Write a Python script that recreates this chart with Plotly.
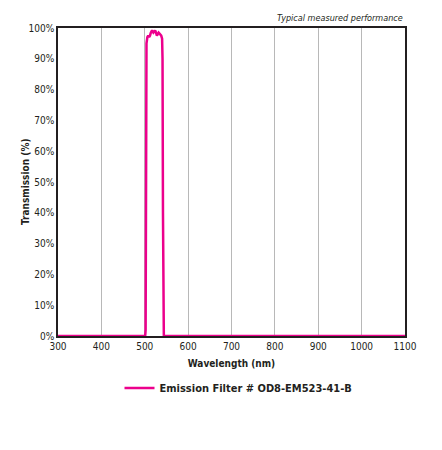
import plotly.graph_objects as go

# ----------------------------------------
# DATA
# ----------------------------------------
wavelength = [300, 500, 501, 502, 503, 504, 506, 508, 510, 512, 514, 516, 518,
              520, 522, 524, 526, 528, 530, 532, 534, 536, 538, 540, 541, 542,
              543, 544, 545, 1100]
transmission = [0, 0, 0, 2, 60, 95, 97, 97.5, 97, 97.5, 98.5, 99, 99,
                98.5, 98.8, 99.2, 98.5, 97.5, 98, 98.5, 98.2, 97.8, 97.5, 96.5, 90, 40,
                3, 0, 0, 0]
x_ticks = list(range(300, 1101, 100))
y_ticks = list(range(0, 101, 10))
y_labels = [f"{v}%" for v in y_ticks]

FONT = "DejaVu Sans Condensed, Liberation Sans Narrow, sans-serif"
TEXT = "#231f20"
PINK = "#ec008c"

# page body has an 8px margin, so pull the plot area up/left by that much
L, T, PW, PH = 50, 20, 347, 308

fig = go.Figure()
fig.add_trace(go.Scatter(
    x=wavelength, y=transmission, mode="lines",
    name="<b>Emission Filter # OD8-EM523-41-B</b>",
    line=dict(color=PINK, width=2.5),
))

fig.update_xaxes(
    range=[300, 1100], tickvals=x_ticks, showgrid=True, gridcolor="#b8b8b8",
    gridwidth=1, showline=True, linecolor="#231f20", linewidth=1.5, mirror=True,
    ticks="", zeroline=False,
    title=dict(text="<b>Wavelength (nm)</b>", font=dict(size=10, color=TEXT), standoff=9),
    tickfont=dict(size=10, color=TEXT),
)
fig.update_yaxes(
    range=[0, 100], tickvals=y_ticks, ticktext=y_labels, showgrid=False,
    showline=True, linecolor="#231f20", linewidth=1.5, mirror=True,
    ticks="", zeroline=False,
    tickfont=dict(size=10, color=TEXT),
)

fig.add_annotation(
    text="<b>Transmission (%)</b>", xref="paper", yref="paper",
    x=-33 / PW, y=0.5, xanchor="center", yanchor="middle", textangle=-90,
    showarrow=False, font=dict(size=10, color=TEXT, family=FONT),
)
fig.add_annotation(
    text="<i>Typical measured performance</i>", xref="paper", yref="paper",
    x=1, y=1, xanchor="right", yanchor="bottom", yshift=3, showarrow=False,
    font=dict(size=9, color=TEXT, family=FONT),
)

fig.update_layout(
    width=442, height=450,
    margin=dict(l=L, r=442 - L - PW, t=T, b=450 - T - PH),
    plot_bgcolor="white", paper_bgcolor="white",
    font=dict(family=FONT, color=TEXT),
    showlegend=True,
    legend=dict(x=0.5 + 7 / PW, y=-52 / PH, xanchor="center", yanchor="middle",
                font=dict(size=11, color=TEXT), bgcolor="rgba(0,0,0,0)",
                itemwidth=30),
)

fig.write_html("out.html")
